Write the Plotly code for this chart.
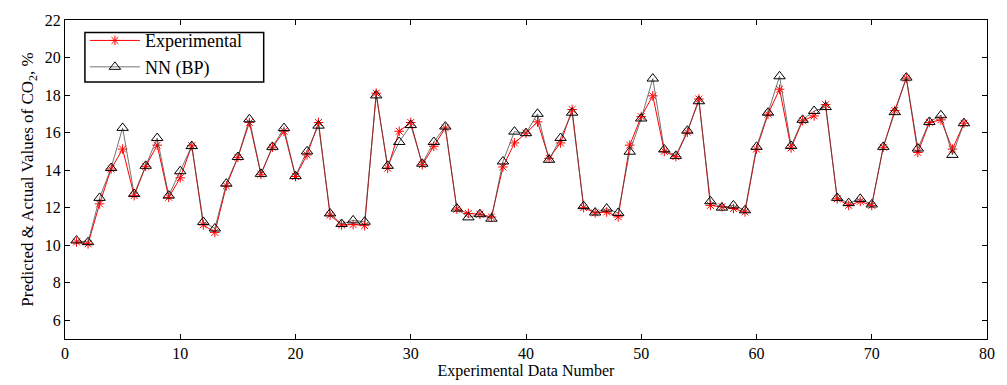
import plotly.graph_objects as go

# Experimental data number (1..78)
sample_no = list(range(1, 79))

# Measured CO2 (%)
experimental = [
    10.17, 10.07, 12.2, 14.06, 15.12, 12.64, 14.2, 15.33, 12.55, 13.59,
    15.3, 11.08, 10.68, 13.16, 14.68, 16.54, 13.78, 15.22, 16.07, 13.66,
    14.81, 16.54, 11.6, 11.08, 11.1, 11.04, 18.1, 14.1, 16.07, 16.54,
    14.29, 15.27, 16.25, 11.92, 11.69, 11.65, 11.5, 14.17, 15.45, 15.97,
    16.57, 14.63, 15.45, 17.23, 12.0, 11.72, 11.77, 11.51, 15.33, 16.85,
    17.96, 15.0, 14.72, 16.02, 17.79, 12.12, 12.05, 11.95, 11.77, 15.12,
    16.98, 18.31, 15.18, 16.63, 16.89, 17.49, 12.47, 12.12, 12.33, 12.12,
    15.22, 17.18, 18.9, 14.94, 16.54, 16.68, 15.12, 16.5,
]

# Neural network (back-propagation) prediction of CO2 (%)
nn_bp = [
    10.25, 10.16, 12.52, 14.11, 16.25, 12.73, 14.23, 15.71, 12.64, 13.94,
    15.28, 11.24, 10.89, 13.28, 14.7, 16.71, 13.8, 15.24, 16.24, 13.68,
    15.0, 16.37, 11.69, 11.13, 11.32, 11.25, 17.98, 14.23, 15.5, 16.4,
    14.34, 15.5, 16.32, 11.95, 11.48, 11.65, 11.41, 14.46, 16.05, 15.97,
    17.0, 14.55, 15.71, 17.06, 12.08, 11.74, 11.95, 11.72, 14.98, 16.75,
    18.88, 15.1, 14.76, 16.1, 17.67, 12.34, 12.0, 12.12, 11.86, 15.24,
    17.06, 19.0, 15.29, 16.68, 17.15, 17.36, 12.52, 12.24, 12.47, 12.17,
    15.24, 17.09, 18.93, 15.15, 16.57, 16.92, 14.81, 16.5,
]

x_ticks = list(range(0, 81, 10))
y_ticks = list(range(6, 23, 2))

FONT = "Liberation Serif, Times New Roman, serif"

fig = go.Figure()

fig.add_trace(go.Scatter(
    x=sample_no, y=experimental, name="Experimental",
    mode="lines+markers",
    line=dict(color="#ff0000", width=1),
    marker=dict(symbol="asterisk-open", size=8, color="#ff0000",
                line=dict(color="#ff0000", width=1)),
))

fig.add_trace(go.Scatter(
    x=sample_no, y=nn_bp, name="NN (BP)",
    mode="lines+markers",
    line=dict(color="rgba(70,70,70,0.75)", width=1),
    marker=dict(symbol="triangle-up-open", size=10, color="#000000",
                line=dict(color="#000000", width=1)),
))

axis_common = dict(
    showgrid=False, zeroline=False,
    showline=True, linecolor="#000000", linewidth=1, mirror="ticks",
    ticks="inside", ticklen=5, tickcolor="#000000",
    tickfont=dict(family=FONT, size=16, color="#000000"),
)

fig.update_xaxes(
    range=[0, 80], tickvals=x_ticks,
    title=dict(text="Experimental Data Number", standoff=0,
               font=dict(family=FONT, size=16, color="#000000")),
    **axis_common,
)
fig.update_yaxes(
    range=[5, 22], tickvals=y_ticks,
    title=dict(text="Predicted &amp; Actual Values of CO<sub>2</sub>, %", standoff=6,
               font=dict(family=FONT, size=17, color="#000000")),
    **axis_common,
)

# Legend frame drawn as a box in paper coordinates
fig.add_shape(
    type="rect", xref="paper", yref="paper",
    x0=0.0216, x1=0.2155, y0=0.8055, y1=0.9605,
    line=dict(color="#000000", width=1.5), fillcolor="#ffffff",
    layer="above",
)

fig.update_layout(
    width=1007, height=385,
    margin=dict(l=65, r=14, t=13, b=43),
    paper_bgcolor="#ffffff", plot_bgcolor="#ffffff",
    font=dict(family=FONT, color="#000000"),
    showlegend=True,
    legend=dict(
        x=0.0216, y=0.993, xanchor="left", yanchor="top",
        bgcolor="rgba(0,0,0,0)", borderwidth=0,
        font=dict(family=FONT, size=18, color="#000000"),
        tracegroupgap=0, itemwidth=50,
    ),
)

fig.write_html("out.html")
